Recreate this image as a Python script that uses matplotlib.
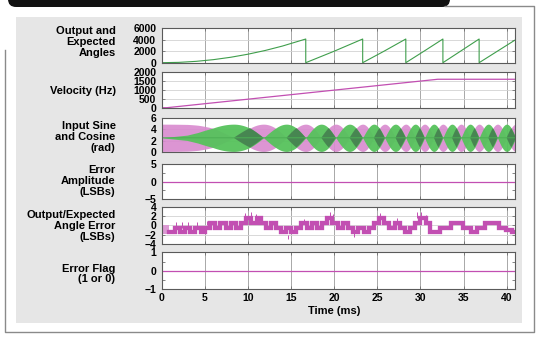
import numpy as np
import matplotlib.pyplot as plt
from matplotlib.patches import Rectangle, FancyBboxPatch

plt.rcParams['font.family'] = ['Liberation Sans', 'DejaVu Sans']
plt.rcParams['font.weight'] = 'bold'

W, H = 540, 337

# --- data ---
# output / expected angle (LSB), sawtooth wrapping at 4096
ang_t = [0, 2, 4, 6, 8, 10, 12, 14, 16.7, 16.7, 20.0, 23.3, 23.3, 25.8, 28.3,
         28.3, 30.45, 32.6, 32.6, 36.8, 36.8, 41]
ang_v = [0, 59, 235, 529, 940, 1469, 2115, 2879, 4096, 0, 1990, 4096, 0, 2010,
         4096, 0, 2030, 4096, 0, 4096, 0, 3950]

# velocity (Hz)
vel_t = [0, 0.6, 32.0, 41]
vel_v = [0, 0, 1580, 1580]

# input angle (deg) vs time, used for the sine / cosine envelopes
turn_t = [0, 2.95, 4.17, 5.90, 8.35, 10.23, 11.81, 13.20, 14.46, 15.62, 16.70,
          17.62, 18.50, 19.36, 20.19, 21.00, 21.78, 22.55, 23.30, 23.96, 24.60,
          25.24, 25.86, 26.48, 27.10, 27.70, 28.30, 28.85, 29.40, 29.94, 30.48,
          31.02, 31.55, 32.08, 32.60, 33.13, 33.65, 34.18, 34.70, 35.23, 35.75,
          36.28, 36.80, 37.33, 37.86, 38.39, 38.93, 39.46, 39.99, 40.52, 41.05]
turn_deg = [0, 11.25, 22.5] + list(range(45, 2161, 45))
sc_mid = 2.5
sc_amp = 2.45

# error amplitude and error flag
amp_t = [0, 41]
amp_v = [0, 0]
flag_t = [0, 41]
flag_v = [0, 0]

# output / expected angle error (LSB), step levels
err_t = [0.9, 1.5, 2.1, 2.7, 3.3, 3.9, 4.5, 5.0, 5.6, 6.2, 6.8, 7.4, 8.0, 8.6,
         9.2, 9.8, 10.4, 11.0, 11.5, 12.1, 12.7, 13.2, 13.8, 14.4, 15.0, 15.6,
         16.2, 16.8, 17.4, 18.0, 18.6, 19.2, 19.8, 20.4, 21.0, 21.6, 22.2, 22.8,
         23.4, 24.0, 24.6, 25.2, 25.8, 26.4, 27.0, 27.6, 28.2, 28.8, 29.4, 30.0,
         30.6, 31.1, 32.3, 33.5, 34.9, 35.9, 36.5, 37.5, 39.1, 39.9, 40.6, 41.0]
err_v = [-1.5, -0.5, -1.5, -0.5, -1.5, -0.5, -1.5, -0.5, 0.5, -0.5, 0.5, -0.5,
         0.5, -0.5, 0.5, 1.5, 0.5, 1.5, 0.5, -0.5, 0.5, -0.5, -1.5, -0.5, -1.5,
         -0.5, 0.5, -0.5, 0.5, -0.5, 0.5, 1.5, 0.5, -0.5, 0.5, -0.5, -1.5, -0.5,
         -1.5, -0.5, 0.5, 1.5, 0.5, -0.5, 0.5, -0.5, -1.5, -0.5, 0.5, 1.5, 0.5,
         -1.5, -0.5, 0.5, -0.5, -1.5, -0.5, 0.5, -0.5, -1.0, -1.5, -1.5]
spike_t = [1.6, 2.3, 3.1, 4.1, 5.3, 6.5, 9.6, 10.3, 10.9, 14.6, 16.5, 19.5,
           19.9, 22.3, 25.3, 27.3, 29.6, 30.1, 30.6]
spike_lo = [-0.5, -0.5, -0.5, -0.5, 0, 0, 1, 1, 1, -2, 0.5, 1, 1, -1.5, 1.5,
            0.5, 1.5, 1.5, 1.0]
spike_hi = [0.8, 0.7, 0.7, 0.7, 0.9, 1.0, 2.6, 2.9, 2.4, -3.0, 1.3, 2.9, 2.4,
            -2.6, 2.6, 1.5, 2.9, 2.8, 2.2]
start_t = [0, 0.9]
start_lo, start_hi = -1.9, 0

labels = ["Output and\nExpected\nAngles", "Velocity (Hz)",
          "Input Sine\nand Cosine\n(rad)", "Error\nAmplitude\n(LSBs)",
          "Output/Expected\nAngle Error\n(LSBs)", "Error Flag\n(1 or 0)"]
yticks = [[0, 2000, 4000, 6000], [0, 500, 1000, 1500, 2000], [0, 2, 4, 6],
          [-5, 0, 5], [-4, -2, 0, 2, 4], [-1, 0, 1]]
xticks = [0, 5, 10, 15, 20, 25, 30, 35, 40]

# --- layout in pixels (top, bottom) ---
boxes = [(28, 62.7), (71.7, 107.7), (118.3, 151.7), (164.3, 199),
         (206.7, 244), (252.3, 289.3)]
label_y = [42.3, 90.7, 136.9, 181.3, 226.3, 274]
x0, x1 = 161.7, 514.5

PINK = '#c24fb2'
GREEN = '#3f9e4c'

fig = plt.figure(figsize=(W / 100, H / 100), dpi=100, facecolor='white')

# background decoration
bg = fig.add_axes([0, 0, 1, 1], zorder=-5)
bg.set_xlim(0, W)
bg.set_ylim(H, 0)
bg.axis('off')
bg.add_patch(Rectangle((15.5, 17), 506, 305.7, facecolor='#e6e6e6', edgecolor='none'))
bg.add_patch(FancyBboxPatch((8, -20), 442, 27, boxstyle='round,pad=0,rounding_size=8',
                            facecolor='#111111', edgecolor='none'))
fc = '#8a8a8a'
bg.plot([5, 5, 534, 534, 445], [50, 332, 332, 6, 6], color=fc, lw=1)

for (yt, yb), lab, ly in zip(boxes, labels, label_y):
    bg.text(115.5, ly, lab, ha='right', va='center', fontsize=8,
            fontweight='bold', linespacing=1.12)
bg.text(334, 311, "Time (ms)", ha='center', va='center', fontsize=8, fontweight='bold')

axes = []
for i, (yt, yb) in enumerate(boxes):
    ax = fig.add_axes([x0 / W, 1 - yb / H, (x1 - x0) / W, (yb - yt) / H])
    ax.set_facecolor('white')
    ax.set_xlim(0, 40.9)
    ax.set_ylim(yticks[i][0], yticks[i][-1])
    ax.set_yticks(yticks[i])
    ax.set_xticks(xticks)
    ax.tick_params(direction='in', length=2.5, width=0.6, color='#707070',
                   top=True, right=True, labelsize=7.5, pad=4)
    ax.tick_params(axis='x', pad=3)
    ax.grid(True, axis='x', color='#a8a8a8', lw=0.7)
    ax.grid(True, axis='y', color='#d2d2d2', lw=0.6)
    ax.set_axisbelow(True)
    for s in ax.spines.values():
        s.set_color('#5a5a5a')
        s.set_linewidth(0.8)
    for lab in ax.get_yticklabels() + ax.get_xticklabels():
        lab.set_fontweight('bold')
    if i < 5:
        ax.tick_params(labelbottom=False)
    axes.append(ax)

# panel 1
axes[0].plot(ang_t, ang_v, color=GREEN, lw=0.8)

# panel 2
axes[1].plot(vel_t, vel_v, color=PINK, lw=0.9)

# panel 3: sine / cosine envelopes
tt = np.linspace(0, 41, 2500)
th = np.interp(tt, turn_t, np.radians(turn_deg))
g_half = sc_amp * np.abs(np.sin(th))
p_half = sc_amp * np.abs(np.cos(th))
anti = np.sin(th) * np.cos(th) < 0
d_half = np.minimum(g_half, p_half)
ax3 = axes[2]
ax3.fill_between(tt, sc_mid - p_half, sc_mid + p_half, color='#d98acf', lw=0, alpha=0.9)
ax3.plot(tt, np.full_like(tt, sc_mid), color='#4cae55', lw=0.7)
ax3.fill_between(tt, sc_mid - g_half, sc_mid + g_half, color='#56c25c', lw=0, alpha=0.95)
ax3.fill_between(tt, sc_mid - d_half, sc_mid + d_half, where=anti, color='#3f6e4a',
                 lw=0, alpha=0.7)

# panel 4
axes[3].plot(amp_t, amp_v, color=PINK, lw=0.9)
axes[3].set_yticks([-2.5, 2.5], minor=True)
axes[3].tick_params(which='minor', direction='in', length=2, color='#707070',
                    left=True, right=True)

# panel 5
ax5 = axes[4]
ax5.fill_between(start_t, start_lo, start_hi, color='#dc9ad4', lw=0)
ax5.plot(err_t, err_v, drawstyle='steps-post', color=PINK, lw=3.1, solid_joinstyle='miter')
ax5.vlines(spike_t, spike_lo, spike_hi, color=PINK, lw=0.7)

# panel 6
axes[5].plot(flag_t, flag_v, color=PINK, lw=0.9)
axes[5].set_yticks([-0.5, 0.5], minor=True)
axes[5].tick_params(which='minor', direction='in', length=2, color='#707070',
                    left=True, right=True)

fig.savefig('out.png', dpi=100, facecolor='white')
